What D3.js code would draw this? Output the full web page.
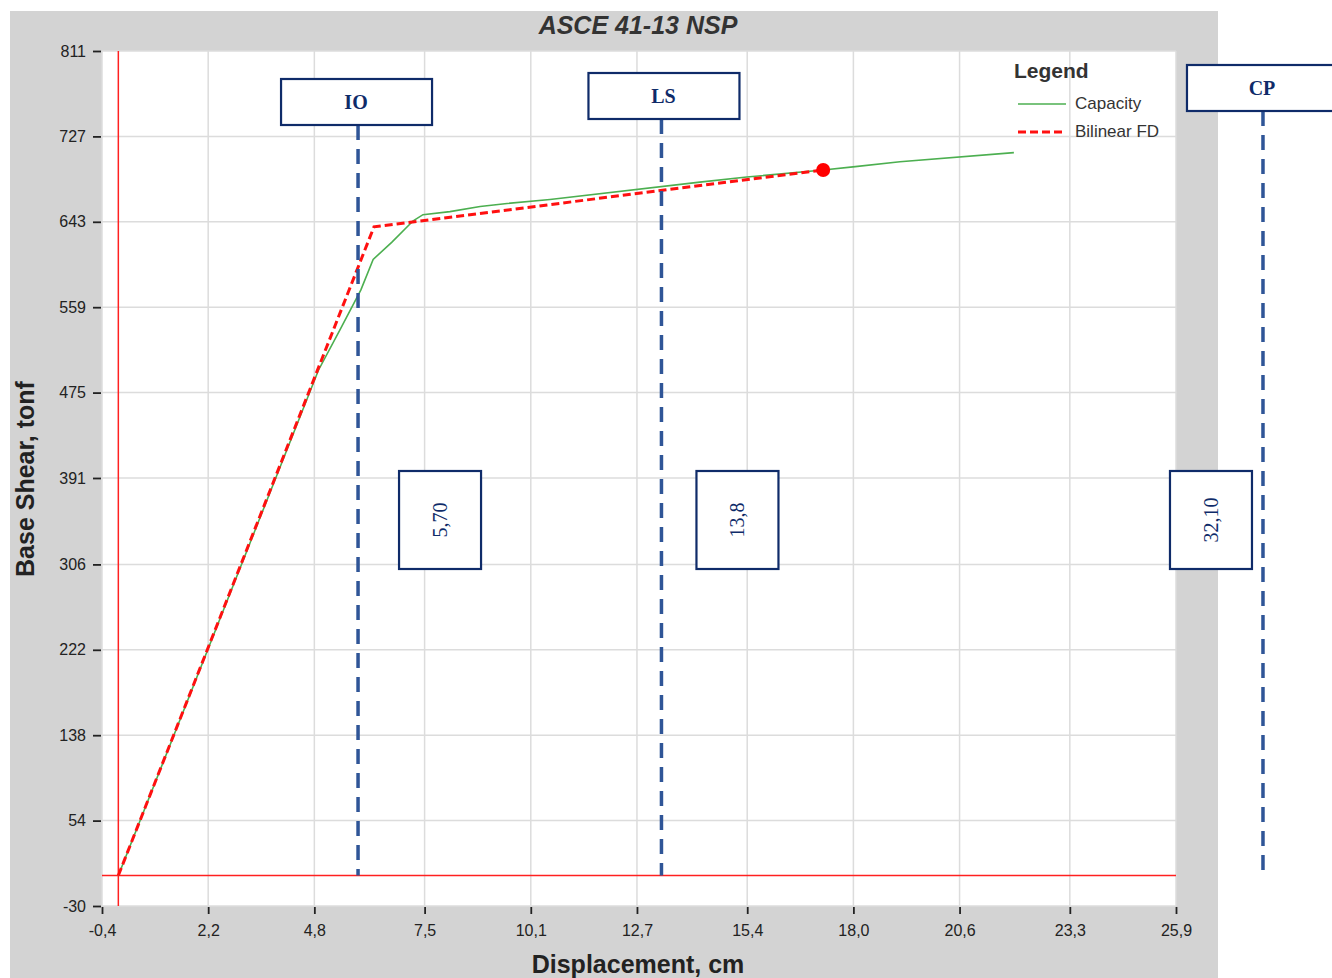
<!DOCTYPE html>
<html>
<head>
<meta charset="utf-8">
<script src="https://cdn.jsdelivr.net/npm/d3@7"></script>
<style>
  body { margin: 0; background: #fff; }
  svg { display: block; }
  .tick text { font-family: "Liberation Sans", Arial, sans-serif; font-size: 16px; fill: #222; }
</style>
</head>
<body>
<svg width="1332" height="978"></svg>
<script>
const width = 1332
const height = 978

// data
const xTicks = [-0.4, 2.2, 4.8, 7.5, 10.1, 12.7, 15.4, 18.0, 20.6, 23.3, 25.9]
const yTicks = [-30, 54, 138, 222, 306, 391, 475, 559, 643, 727, 811]

const capX = [0, 4.9, 5.43, 5.94, 6.24, 6.70, 7.22, 7.46, 8.12, 8.86, 9.52, 10.57, 14.24, 15.39, 17.26, 17.99, 19.14, 21.93]
const capY = [0, 497, 537, 576, 606, 623, 644, 650, 653, 658, 661, 665, 682, 687, 694, 697, 702, 711]

const bilX = [0, 6.26, 17.26]
const bilY = [0, 638, 694]
const perfPoint = { x: 17.26, y: 694 }

const levels = ["IO", "LS", "CP"]
const levelX = [5.87, 13.3, 28.03]
const levelVals = ["5,70", "13,8", "32,10"]

const fmt = v => d3.format(".1f")(v).replace(".", ",").replace("\u2212", "-")

const svg = d3.select("svg")
const x = d3.scaleLinear().domain([-0.4, 25.9]).range([102, 1176])
const y = d3.scaleLinear().domain([-30, 811]).range([906, 51])

// gray panel + white plot
svg.append("rect").attr("x", 10).attr("y", 11).attr("width", 1208).attr("height", 980).attr("fill", "#d3d3d3")
svg.append("rect").attr("x", 102).attr("y", 51).attr("width", 1074).attr("height", 855).attr("fill", "#fff")

// grid
svg.append("g").selectAll("line").data(xTicks).enter().append("line")
  .attr("x1", d => x(d)).attr("x2", d => x(d)).attr("y1", 51).attr("y2", 906)
  .attr("stroke", "#dcdcdc").attr("stroke-width", 1.5)
svg.append("g").selectAll("line").data(yTicks).enter().append("line")
  .attr("x1", 102).attr("x2", 1176).attr("y1", d => y(d)).attr("y2", d => y(d))
  .attr("stroke", "#dcdcdc").attr("stroke-width", 1.5)

// axes
const xAxis = d3.axisBottom(x).tickValues(xTicks).tickFormat(fmt).tickSize(7).tickPadding(11)
const yAxis = d3.axisLeft(y).tickValues(yTicks).tickFormat(d => String(d)).tickSize(8).tickPadding(7)
const gx = svg.append("g").attr("transform", "translate(0,907)").call(xAxis)
const gy = svg.append("g").attr("transform", "translate(101,0)").call(yAxis)
gx.select(".domain").remove(); gy.select(".domain").remove()
gx.selectAll(".tick line").attr("stroke", "#222").attr("stroke-width", 1.8)
gy.selectAll(".tick line").attr("stroke", "#222").attr("stroke-width", 1.8)

// zero lines
svg.append("line").attr("x1", x(0)).attr("x2", x(0)).attr("y1", 51).attr("y2", 906)
  .attr("stroke", "#ff2020").attr("stroke-width", 1.5)
svg.append("line").attr("x1", 102).attr("x2", 1176).attr("y1", y(0)).attr("y2", y(0))
  .attr("stroke", "#ff2020").attr("stroke-width", 1.5)

// curves
const line = d3.line().x(d => x(d[0])).y(d => y(d[1]))
svg.append("path").datum(d3.zip(capX, capY)).attr("d", line)
  .attr("fill", "none").attr("stroke", "#4caf50").attr("stroke-width", 1.6)
svg.append("path").datum(d3.zip(bilX, bilY)).attr("d", line)
  .attr("fill", "none").attr("stroke", "#ff1010").attr("stroke-width", 3).attr("stroke-dasharray", "8,4")
svg.append("circle").attr("cx", x(perfPoint.x)).attr("cy", y(perfPoint.y)).attr("r", 7).attr("fill", "#ff0000")

// title + labels
svg.append("text").attr("x", 638).attr("y", 34).attr("text-anchor", "middle")
  .attr("font-family", "Liberation Sans, Arial").attr("font-size", 25).attr("font-weight", "bold")
  .attr("font-style", "italic").attr("fill", "#333").text("ASCE 41-13 NSP")
svg.append("text").attr("x", 638).attr("y", 973).attr("text-anchor", "middle")
  .attr("font-family", "Liberation Sans, Arial").attr("font-size", 25).attr("font-weight", "bold")
  .attr("fill", "#222").text("Displacement, cm")
svg.append("text").attr("transform", "translate(34,479) rotate(-90)").attr("text-anchor", "middle")
  .attr("font-family", "Liberation Sans, Arial").attr("font-size", 25).attr("font-weight", "bold")
  .attr("fill", "#222").text("Base Shear, tonf")

// legend
const lg = svg.append("g").attr("font-family", "Liberation Sans, Arial").attr("fill", "#333")
lg.append("text").attr("x", 1014).attr("y", 78).attr("font-size", 21).attr("font-weight", "bold").text("Legend")
lg.append("line").attr("x1", 1018).attr("x2", 1066).attr("y1", 104).attr("y2", 104).attr("stroke", "#4caf50").attr("stroke-width", 1.6)
lg.append("text").attr("x", 1075).attr("y", 109).attr("font-size", 17).text("Capacity")
lg.append("line").attr("x1", 1018).attr("x2", 1066).attr("y1", 132).attr("y2", 132).attr("stroke", "#ff1010").attr("stroke-width", 3).attr("stroke-dasharray", "8,4")
lg.append("text").attr("x", 1075).attr("y", 137).attr("font-size", 17).text("Bilinear FD")

// performance levels
const navy = "#0f2b69"
const labelTop = [79, 73, 65]
const boxShift = [-1, 3, 0]
levels.forEach((name, i) => {
  const cx = x(levelX[i])
  svg.append("line").attr("x1", cx).attr("x2", cx).attr("y1", labelTop[i] + 46).attr("y2", y(0))
    .attr("stroke", "#2f5597").attr("stroke-width", 3.5).attr("stroke-dasharray", "15,9")
  svg.append("rect").attr("x", cx - 76 + boxShift[i]).attr("y", labelTop[i]).attr("width", 151).attr("height", 46)
    .attr("fill", "#fff").attr("stroke", navy).attr("stroke-width", 2.2)
  svg.append("text").attr("x", cx - 1 + boxShift[i]).attr("y", labelTop[i] + 30).attr("text-anchor", "middle")
    .attr("font-family", "Liberation Serif, Times New Roman").attr("font-size", 20).attr("font-weight", "bold")
    .attr("fill", navy).text(name)
  const bx = cx + [41, 35, -93][i]
  svg.append("rect").attr("x", bx).attr("y", 471).attr("width", 82).attr("height", 98)
    .attr("fill", "#fff").attr("stroke", navy).attr("stroke-width", 2.2)
  svg.append("text").attr("transform", `translate(${bx + 48},520) rotate(-90)`).attr("text-anchor", "middle")
    .attr("font-family", "Liberation Serif, Times New Roman").attr("font-size", 20)
    .attr("fill", navy).text(levelVals[i])
})
</script>
</body>
</html>
